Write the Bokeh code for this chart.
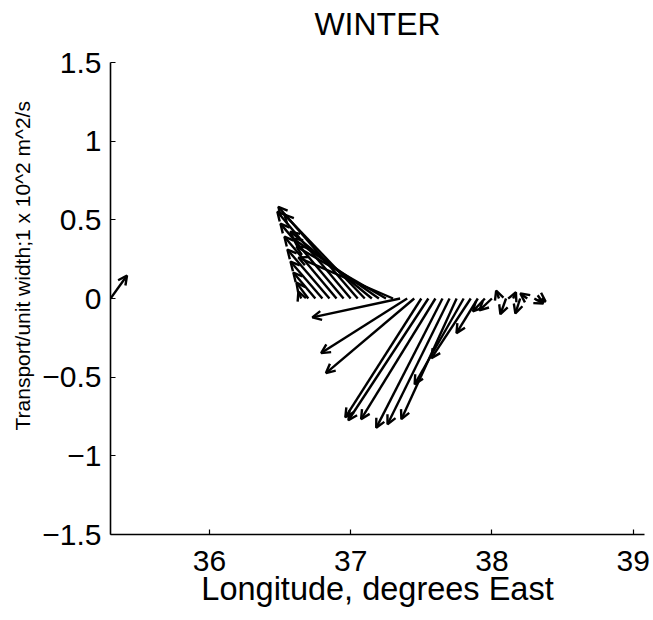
from bokeh.plotting import figure
from bokeh.models import (Range1d, FixedTicker, Arrow, OpenHead, ColumnDataSource, Title)
from bokeh.embed import file_html
from bokeh.resources import INLINE

# Quiver data: base longitude (on y = 0) and vector components
lon = [35.30,
       36.65, 36.70, 36.75, 36.80, 36.85, 36.90, 36.95, 37.00, 37.05, 37.10,
       37.15, 37.20, 37.25, 37.30,
       37.35, 37.40, 37.45, 37.50, 37.55, 37.60, 37.65, 37.70, 37.75, 37.80,
       37.85, 37.90, 37.95,
       38.00, 38.05, 38.10, 38.15, 38.20, 38.25, 38.30, 38.35]
u = [0.117,
     -0.020, -0.084, -0.156, -0.226, -0.298, -0.369, -0.447, -0.519, -0.562, -0.569,
     -0.577, -0.606, -0.634, -0.670,
     -0.621, -0.609, -0.625, -0.538, -0.566, -0.526, -0.469, -0.439, -0.391, -0.347,
     -0.278, -0.151, -0.085,
     -0.089, -0.020, -0.040, 0.020, -0.034, -0.049, 0.064, 0.030]
v = [0.146,
     0.044, 0.101, 0.165, 0.235, 0.311, 0.393, 0.476, 0.552, 0.583, 0.533,
     0.425, 0.380, 0.330, 0.260,
     -0.120, -0.347, -0.474, -0.755, -0.774, -0.767, -0.822, -0.799, -0.767, -0.545,
     -0.379, -0.220, -0.082,
     -0.076, 0.050, -0.100, 0.040, -0.095, 0.032, -0.032, -0.020]

x_ticks = [36, 37, 38, 39]
y_ticks = [-1.5, -1, -0.5, 0, 0.5, 1, 1.5]
y_tick_labels = ["\u22121.5", "\u22121", "\u22120.5", "0", "0.5", "1", "1.5"]

FONT = "Liberation Sans"

p = figure(width=650, height=619, output_backend="svg", toolbar_location=None,
           x_range=Range1d(35.3, 39.08), y_range=Range1d(-1.5, 1.5),
           min_border_left=110, min_border_right=6, min_border_top=61,
           min_border_bottom=85, title=None)
p.outline_line_color = None
p.grid.visible = False
p.background_fill_color = "white"
p.border_fill_color = "white"

# spacer (closest to frame), then the visible title above it
spacer = Title(text=" ", text_font=FONT, text_font_size="12px", standoff=2)
p.add_layout(spacer, "above")
title = Title(text="WINTER", align="center", text_font=FONT, text_font_size="32px",
              text_font_style="normal", text_color="black", standoff=6)
p.add_layout(title, "above")

for ax in (p.xaxis[0], p.yaxis[0]):
    ax.major_tick_in = 5
    ax.major_tick_out = 0
    ax.minor_tick_line_color = None
    ax.axis_line_width = 1.6
    ax.axis_line_color = "black"
    ax.major_tick_line_color = "black"
    ax.major_tick_line_width = 1.2
    ax.major_label_text_font = FONT
    ax.major_label_text_font_size = "30px"
    ax.major_label_text_color = "black"

p.xaxis.ticker = FixedTicker(ticks=x_ticks)
p.yaxis.ticker = FixedTicker(ticks=y_ticks)
p.yaxis.major_label_overrides = {t: s for t, s in zip(y_ticks, y_tick_labels)}
p.xaxis.major_label_standoff = 16
p.yaxis.major_label_standoff = 9

p.xaxis.axis_label = "Longitude, degrees East"
p.xaxis.axis_label_text_font = FONT
p.xaxis.axis_label_text_font_size = "32.5px"
p.xaxis.axis_label_text_font_style = "normal"
p.xaxis.axis_label_text_color = "black"
p.xaxis.axis_label_standoff = -3

ylab = Title(text="Transport/unit width;1 x 10^2 m^2/s", align="left", offset=104,
             text_font=FONT, text_font_size="21px", text_font_style="normal",
             text_color="black", standoff=11)
p.add_layout(ylab, "left")

src = ColumnDataSource(dict(
    x0=lon, y0=[0.0] * len(lon),
    x1=[a + b for a, b in zip(lon, u)],
    y1=list(v),
))
arrows = Arrow(source=src, x_start="x0", y_start="y0", x_end="x1", y_end="y1",
               line_color="black", line_width=2.4,
               end=OpenHead(size=9, line_width=2.4, line_color="black"))
p.add_layout(arrows)

open("out.html", "w").write(file_html(p, INLINE))
